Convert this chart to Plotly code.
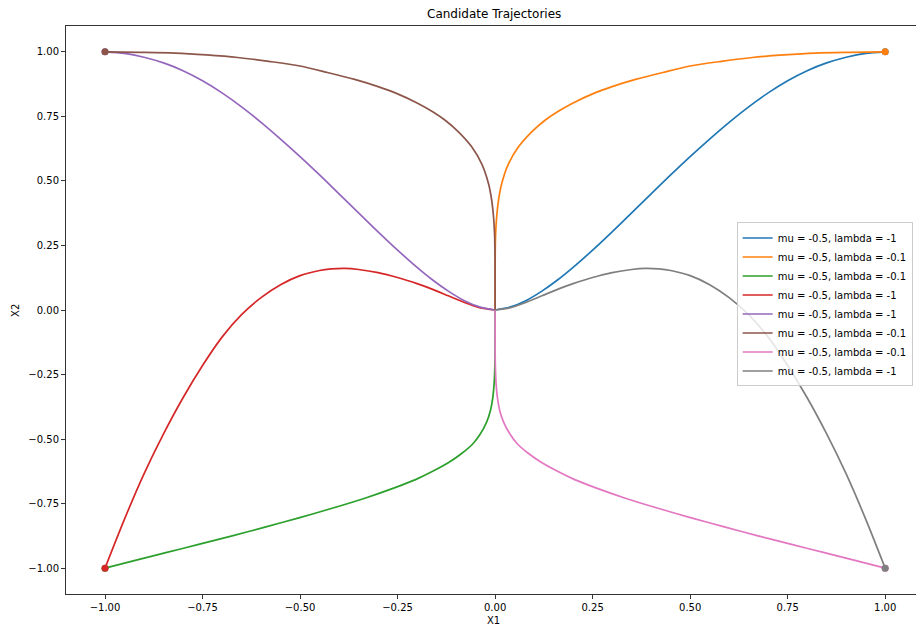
import plotly.graph_objects as go

# ---- data ----
labels = [
    "mu = -0.5, lambda = -1",
    "mu = -0.5, lambda = -0.1",
    "mu = -0.5, lambda = -0.1",
    "mu = -0.5, lambda = -1",
    "mu = -0.5, lambda = -1",
    "mu = -0.5, lambda = -0.1",
    "mu = -0.5, lambda = -0.1",
    "mu = -0.5, lambda = -1",
]
colors = ["#1f77b4", "#ff7f0e", "#2ca02c", "#d62728",
          "#9467bd", "#8c564b", "#e377c2", "#7f7f7f"]

blue_x = [1.0, 0.95, 0.90, 0.85, 0.80, 0.75, 0.70, 0.65, 0.60, 0.55, 0.50, 0.45, 0.40,
          0.35, 0.30, 0.25, 0.20, 0.16, 0.12, 0.08, 0.04, 0.0]
blue_y = [1.0, 0.994, 0.979, 0.957, 0.927, 0.888, 0.841, 0.787, 0.727, 0.662, 0.594, 0.523, 0.450,
          0.376, 0.303, 0.232, 0.165, 0.116, 0.073, 0.037, 0.012, 0.0]

orange_x = [1.0, 0.91, 0.82, 0.74, 0.66, 0.58, 0.50, 0.43, 0.36, 0.30, 0.25, 0.20, 0.16, 0.128,
            0.094, 0.06, 0.034, 0.017, 0.009, 0.004, 0.0015, 0.0004, 0.0001, 0.0]
orange_y = [1.0, 0.998, 0.995, 0.988, 0.978, 0.963, 0.945, 0.92, 0.893, 0.865, 0.837, 0.802, 0.768, 0.735,
            0.69, 0.632, 0.565, 0.49, 0.428, 0.36, 0.30, 0.23, 0.16, 0.0]

green_x = [-1.0, -0.92, -0.844, -0.76, -0.674, -0.59, -0.503, -0.42, -0.332, -0.26, -0.204, -0.16,
           -0.118, -0.085, -0.058, -0.038, -0.022, -0.012, -0.006, -0.0025, -0.0008, -0.0002, 0.0]
green_y = [-1.0, -0.969, -0.94, -0.908, -0.875, -0.841, -0.805, -0.769, -0.728, -0.69, -0.657, -0.625,
           -0.59, -0.555, -0.52, -0.48, -0.435, -0.39, -0.34, -0.285, -0.225, -0.165, 0.0]

red_x = [-1.0, -0.95, -0.90, -0.85, -0.80, -0.75, -0.70, -0.65, -0.60, -0.55, -0.50, -0.45, -0.42,
         -0.385, -0.35, -0.30, -0.25, -0.20, -0.16, -0.12, -0.08, -0.04, 0.0]
red_y = [-1.0, -0.81, -0.635, -0.48, -0.34, -0.215, -0.105, -0.018, 0.048, 0.098, 0.133, 0.153, 0.159,
         0.161, 0.157, 0.145, 0.126, 0.102, 0.080, 0.055, 0.030, 0.009, 0.0]

purple_x = [-1.0, -0.95, -0.90, -0.85, -0.80, -0.75, -0.70, -0.65, -0.60, -0.55, -0.50, -0.45, -0.40,
            -0.35, -0.30, -0.25, -0.20, -0.16, -0.12, -0.08, -0.04, 0.0]
purple_y = [1.0, 0.994, 0.979, 0.957, 0.927, 0.888, 0.841, 0.787, 0.727, 0.662, 0.594, 0.523, 0.450,
            0.376, 0.303, 0.232, 0.165, 0.116, 0.073, 0.037, 0.012, 0.0]

brown_x = [-1.0, -0.91, -0.82, -0.74, -0.66, -0.58, -0.50, -0.43, -0.36, -0.30, -0.25, -0.20, -0.16, -0.128,
           -0.094, -0.06, -0.034, -0.017, -0.009, -0.004, -0.0015, -0.0004, -0.0001, 0.0]
brown_y = [1.0, 0.998, 0.995, 0.988, 0.978, 0.963, 0.945, 0.92, 0.893, 0.865, 0.837, 0.802, 0.768, 0.735,
           0.69, 0.632, 0.565, 0.49, 0.428, 0.36, 0.30, 0.23, 0.16, 0.0]

pink_x = [1.0, 0.92, 0.844, 0.76, 0.674, 0.59, 0.503, 0.42, 0.332, 0.26, 0.204, 0.16,
          0.118, 0.085, 0.058, 0.038, 0.022, 0.012, 0.006, 0.0025, 0.0008, 0.0002, 0.0]
pink_y = [-1.0, -0.969, -0.94, -0.908, -0.875, -0.841, -0.805, -0.769, -0.728, -0.69, -0.657, -0.625,
          -0.59, -0.555, -0.52, -0.48, -0.435, -0.39, -0.34, -0.285, -0.225, -0.165, 0.0]

gray_x = [1.0, 0.95, 0.90, 0.85, 0.80, 0.75, 0.70, 0.65, 0.60, 0.55, 0.50, 0.45, 0.42,
          0.385, 0.35, 0.30, 0.25, 0.20, 0.16, 0.12, 0.08, 0.04, 0.0]
gray_y = [-1.0, -0.81, -0.635, -0.48, -0.34, -0.215, -0.105, -0.018, 0.048, 0.098, 0.133, 0.153, 0.159,
          0.161, 0.157, 0.145, 0.126, 0.102, 0.080, 0.055, 0.030, 0.009, 0.0]

tick_vals = [-1.0, -0.75, -0.5, -0.25, 0.0, 0.25, 0.5, 0.75, 1.0]
tick_text = ["\u22121.00", "\u22120.75", "\u22120.50", "\u22120.25", "0.00", "0.25", "0.50", "0.75", "1.00"]

series = [(blue_x, blue_y), (orange_x, orange_y), (green_x, green_y), (red_x, red_y),
          (purple_x, purple_y), (brown_x, brown_y), (pink_x, pink_y), (gray_x, gray_y)]

FONT = "DejaVu Sans"
fig = go.Figure()
for (xs, ys), lab, col in zip(series, labels, colors):
    fig.add_trace(go.Scatter(x=xs, y=ys, mode="lines", name=lab,
                             line=dict(color=col, width=1.7, shape="spline", smoothing=0.8)))
    fig.add_trace(go.Scatter(x=[xs[0]], y=[ys[0]], mode="markers", showlegend=False,
                             marker=dict(color=col, size=7, line=dict(width=0)),
                             hoverinfo="skip"))

axis_common = dict(
    showgrid=False, zeroline=False, showline=True, linecolor="#333333", linewidth=1,
    ticks="outside", ticklen=4, tickwidth=1, tickcolor="#333333",
    tickfont=dict(family=FONT, size=10, color="#000000"),
    tickvals=tick_vals, ticktext=tick_text, automargin=False,
)

fig.update_layout(
    width=916, height=626, autosize=False,
    margin=dict(l=66, r=0, t=26, b=32),
    plot_bgcolor="white", paper_bgcolor="white",
    font=dict(family=FONT, size=10, color="#000000"),
    xaxis=dict(range=[-1.1, 1.079], mirror=True, **axis_common),
    yaxis=dict(range=[-1.1, 1.1], mirror=False, **axis_common),
    legend=dict(x=0.789, y=0.5097, xanchor="left", yanchor="middle",
                bgcolor="rgba(255,255,255,0.8)", bordercolor="#cccccc", borderwidth=1,
                font=dict(family=FONT, size=10, color="#000000"),
                itemwidth=30, tracegroupgap=0),
    showlegend=True,
    annotations=[
        dict(text="Candidate Trajectories", xref="paper", yref="paper", x=0.5035, y=1.0211,
             xanchor="center", yanchor="middle", showarrow=False,
             font=dict(family=FONT, size=12, color="#000000")),
        dict(text="X1", xref="paper", yref="paper", x=0.5035, y=-0.0458,
             xanchor="center", yanchor="middle", showarrow=False,
             font=dict(family=FONT, size=10, color="#000000")),
        dict(text="X2", xref="paper", yref="paper", x=-0.0601, y=0.5,
             xanchor="center", yanchor="middle", showarrow=False, textangle=-90,
             font=dict(family=FONT, size=10, color="#000000")),
    ],
)

fig.write_html(
    "out.html",
    config={"responsive": False, "displayModeBar": False},
    post_script="document.body.style.margin='0';document.body.style.overflow='hidden';",
)
